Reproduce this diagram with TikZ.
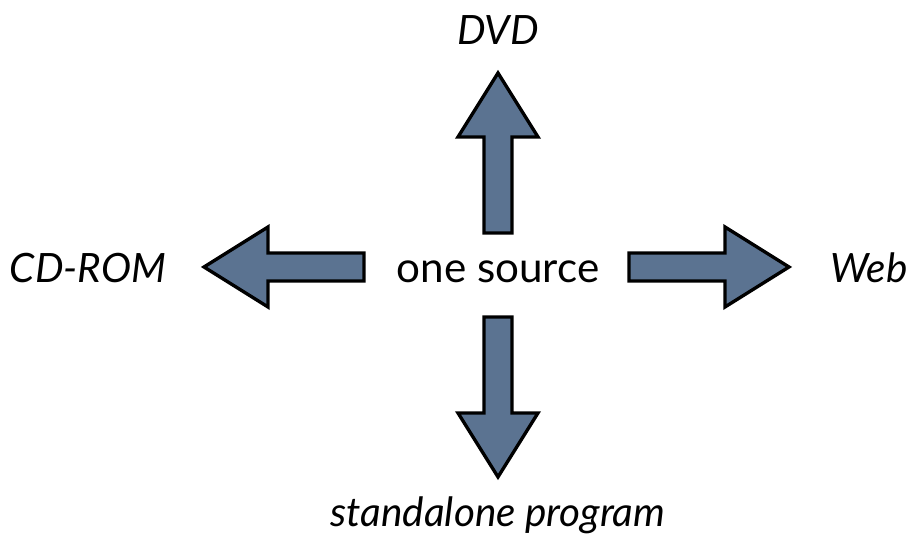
\documentclass[tikz,border=0pt]{standalone}
\usepackage{fontspec}
\setmainfont{Lato}
\usepackage{tikz}
\usetikzlibrary{positioning, calc}
\definecolor{slateblue}{RGB}{91,115,145}

\begin{document}
\begin{tikzpicture}[x=0.2mm, y=0.2mm,
    lbl/.style={font=\fontsize{24}{28}\selectfont, anchor=base, inner sep=0pt},
    tgt/.style={lbl, font=\fontsize{23}{27}\selectfont\itshape},
    blockarrow/.pic={\draw[fill=slateblue, line width=1.9pt, line join=miter]
        (0,-14) -- (96,-14) -- (96,-40) -- (160,0) -- (96,40) -- (96,14) -- (0,14) -- cycle;}]
    \useasboundingbox (0,0) rectangle (910,538);
    \node[lbl] (src) at (498,255) {one source};
    \node[tgt] (dvd) at (498,493) {DVD};
    \node[tgt] (cdrom) at (88,255) {CD-ROM};
    \node[tgt] (web) at (869,255) {Web};
    \node[tgt] (prog) at (498,11) {standalone program};
    \pic[rotate=90] at (498,305) {blockarrow};
    \pic[rotate=-90] at (498,221) {blockarrow};
    \pic[rotate=180] at (364,271) {blockarrow};
    \pic at (629,271) {blockarrow};
\end{tikzpicture}
\end{document}
